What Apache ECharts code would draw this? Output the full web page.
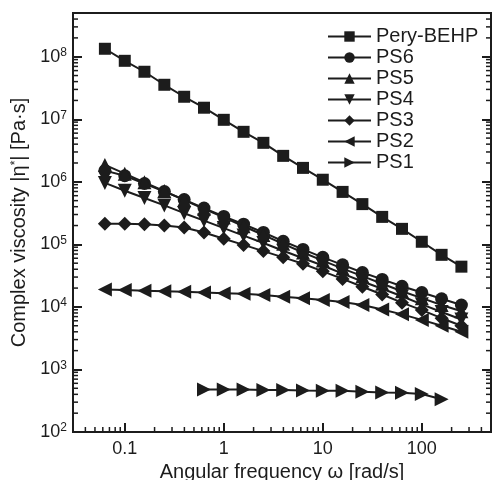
<!DOCTYPE html>
<html>
<head>
<meta charset="utf-8">
<script src="https://cdn.jsdelivr.net/npm/echarts@6/dist/echarts.min.js"></script>
<style>
  html, body { margin: 0; padding: 0; background: #fff; }
  #chart { width: 492px; height: 480px; }
</style>
</head>
<body>
<div id="chart"></div>
<script>
// angular frequency, rad/s (5 points per decade)
let freq = [0.063, 0.1, 0.158, 0.251, 0.398, 0.631, 1, 1.585, 2.512, 3.981,
            6.31, 10, 15.85, 25.12, 39.81, 63.1, 100, 158.5, 251.2];
let freqPS1 = [0.631, 1, 1.585, 2.512, 3.981, 6.31, 10, 15.85, 25.12, 39.81, 63.1, 100, 158.5];

let peryBEHP = [1.34e8, 8.6e7, 5.75e7, 3.56e7, 2.29e7, 1.53e7, 9.8e6, 6.3e6, 4.2e6, 2.6e6,
                1.67e6, 1.08e6, 6.9e5, 4.4e5, 2.75e5, 1.77e5, 1.1e5, 6.8e4, 4.4e4];
let ps6 = [1.51e6, 1.25e6, 9.4e5, 7.0e5, 5.2e5, 3.8e5, 2.8e5, 2.1e5, 1.55e5, 1.12e5,
           8.3e4, 6.2e4, 4.7e4, 3.55e4, 2.75e4, 2.14e4, 1.7e4, 1.35e4, 1.07e4];
let ps5 = [1.86e6, 1.35e6, 9.8e5, 7.1e5, 5.1e5, 3.7e5, 2.7e5, 1.95e5, 1.41e5, 1.02e5,
           7.4e4, 5.5e4, 4.1e4, 3.1e4, 2.35e4, 1.78e4, 1.38e4, 1.07e4, 8.5e3];
let ps4 = [9.6e5, 7.2e5, 5.5e5, 4.2e5, 3.15e5, 2.4e5, 1.82e5, 1.38e5, 1.05e5, 7.9e4,
           6.0e4, 4.6e4, 3.4e4, 2.55e4, 1.95e4, 1.48e4, 1.1e4, 8.3e3, 6.3e3];
let ps3 = [2.14e5, 2.14e5, 2.09e5, 2.0e5, 1.86e5, 1.55e5, 1.23e5, 9.8e4, 7.8e4, 6.2e4,
           4.9e4, 3.7e4, 2.8e4, 2.1e4, 1.58e4, 1.17e4, 8.9e3, 6.6e3, 5.0e3];
let ps2 = [1.9e4, 1.86e4, 1.82e4, 1.78e4, 1.74e4, 1.7e4, 1.66e4, 1.62e4, 1.55e4, 1.45e4,
           1.38e4, 1.29e4, 1.2e4, 1.07e4, 9.1e3, 7.6e3, 6.2e3, 5.0e3, 4.0e3];
let ps1 = [480, 480, 480, 470, 470, 460, 455, 455, 440, 430, 425, 405, 335];

// axis ranges and minor tick layout (2..9 inside each decade)
let xMin = 0.03, xMax = 500;
let yMin = 100, yMax = 5e8;
let xDecades = [0.01, 0.1, 1, 10, 100];
let yDecades = [1e2, 1e3, 1e4, 1e5, 1e6, 1e7, 1e8];
let mantissa = [2, 3, 4, 5, 6, 7, 8, 9];

let ink = '#1c1c1c';
let font = 'Liberation Sans, Arial, sans-serif';

function pairs(xs, ys) {
    let out = [];
    for (let i = 0; i < ys.length; i++) {
        out.push([xs[i], ys[i]]);
    }
    return out;
}

function minorValues(decades, lo, hi) {
    let out = [];
    decades.forEach(function (d) {
        mantissa.forEach(function (m) {
            let v = +(d * m).toPrecision(6);
            if (v > lo && v < hi) out.push(v);
        });
    });
    return out;
}

function makeSeries(name, xs, ys, symbol, size, rotate) {
    return {
        name: name,
        type: 'line',
        data: pairs(xs, ys),
        symbol: symbol,
        symbolSize: size,
        symbolRotate: rotate,
        showSymbol: true,
        lineStyle: { color: ink, width: 2 },
        itemStyle: { color: ink, borderWidth: 0 },
        emphasis: { disabled: true },
        z: 3
    };
}

function supLabel(v) {
    let n = Math.round(Math.log10(v));
    return '10{s|' + n + '}';
}

// minor ticks, placed with the axes' own log scales
function xMinorTick(params, api) {
    let p = api.coord([api.value(0), yMin]);
    return {
        type: 'line',
        shape: { x1: p[0], y1: p[1], x2: p[0], y2: p[1] - 5 },
        style: { stroke: ink, lineWidth: 1.5 }
    };
}

function yMinorTick(params, api) {
    let l = api.coord([xMin, api.value(1)]);
    let r = api.coord([xMax, api.value(1)]);
    return {
        type: 'group',
        children: [
            { type: 'line', shape: { x1: l[0], y1: l[1], x2: l[0] + 5, y2: l[1] },
              style: { stroke: ink, lineWidth: 1.5 } },
            { type: 'line', shape: { x1: r[0], y1: r[1], x2: r[0] - 5, y2: r[1] },
              style: { stroke: ink, lineWidth: 1.5 } }
        ]
    };
}

let majorTicks = {
    show: true,
    inside: true,
    length: 9,
    lineStyle: { color: ink, width: 2 }
};

let option = {
    animation: false,
    textStyle: { fontFamily: font },
    grid: {
        left: 73, top: 13, right: 1, bottom: 48,
        show: true,
        borderColor: ink,
        borderWidth: 2,
        containLabel: false,
        outerBoundsMode: 'none'
    },
    legend: {
        orient: 'vertical',
        left: 322,
        top: 21,
        itemWidth: 43,
        itemHeight: 13,
        itemGap: 0,
        textStyle: { fontSize: 20, color: ink, lineHeight: 21, fontFamily: font },
        data: ['Pery-BEHP', 'PS6', 'PS5', 'PS4', 'PS3', 'PS2', 'PS1']
    },
    xAxis: {
        type: 'log',
        logBase: 10,
        min: xMin,
        max: xMax,
        name: 'Angular frequency ω [rad/s]',
        nameLocation: 'middle',
        nameGap: 25,
        nameTextStyle: { fontSize: 20, color: ink, fontFamily: font },
        axisLine: { show: true, lineStyle: { color: ink, width: 2 } },
        axisTick: majorTicks,
        splitLine: { show: false },
        axisLabel: {
            fontSize: 18, color: ink, margin: 8,
            showMinLabel: false, showMaxLabel: false,
            formatter: function (v) { return String(+v.toPrecision(3)); }
        }
    },
    yAxis: [
        {
            type: 'log',
            logBase: 10,
            min: yMin,
            max: yMax,
            name: '{a|Complex viscosity |η}{s|*}{a|| [Pa·s]}',
            nameLocation: 'middle',
            nameGap: 43,
            nameRotate: 90,
            nameTextStyle: {
                color: ink,
                rich: {
                    a: { fontSize: 20, color: ink, fontFamily: font },
                    s: { fontSize: 12, color: ink, fontFamily: font, verticalAlign: 'top' }
                }
            },
            axisLine: { show: true, lineStyle: { color: ink, width: 2 } },
            axisTick: majorTicks,
            splitLine: { show: false },
            axisLabel: {
                color: ink, margin: 6,
                showMinLabel: true, showMaxLabel: false,
                formatter: supLabel,
                rich: {
                    s: { fontSize: 12, color: ink, fontFamily: font, verticalAlign: 'top', padding: [0, 0, 8, 0] }
                },
                fontSize: 18
            }
        },
        {
            type: 'log',
            logBase: 10,
            min: yMin,
            max: yMax,
            position: 'right',
            axisLine: { show: true, lineStyle: { color: ink, width: 2 } },
            axisTick: majorTicks,
            splitLine: { show: false },
            axisLabel: { show: false }
        }
    ],
    series: [
        makeSeries('Pery-BEHP', freq, peryBEHP, 'rect', 12, 0),
        makeSeries('PS6', freq, ps6, 'circle', 13, 0),
        makeSeries('PS5', freq, ps5, 'triangle', 14, 0),
        makeSeries('PS4', freq, ps4, 'triangle', 14, 180),
        makeSeries('PS3', freq, ps3, 'diamond', 14, 0),
        makeSeries('PS2', freq, ps2, 'triangle', 14, 90),
        makeSeries('PS1', freqPS1, ps1, 'triangle', 14, -90),
        {
            type: 'custom',
            silent: true,
            clip: false,
            renderItem: xMinorTick,
            data: minorValues(xDecades, xMin, xMax).map(function (v) { return [v, yMin]; }),
            z: 4
        },
        {
            type: 'custom',
            silent: true,
            clip: false,
            renderItem: yMinorTick,
            data: minorValues(yDecades, yMin, yMax).map(function (v) { return [xMin, v]; }),
            z: 4
        }
    ]
};

let chart = echarts.init(document.getElementById('chart'), null, { renderer: 'canvas' });
chart.setOption(option);
</script>
</body>
</html>
